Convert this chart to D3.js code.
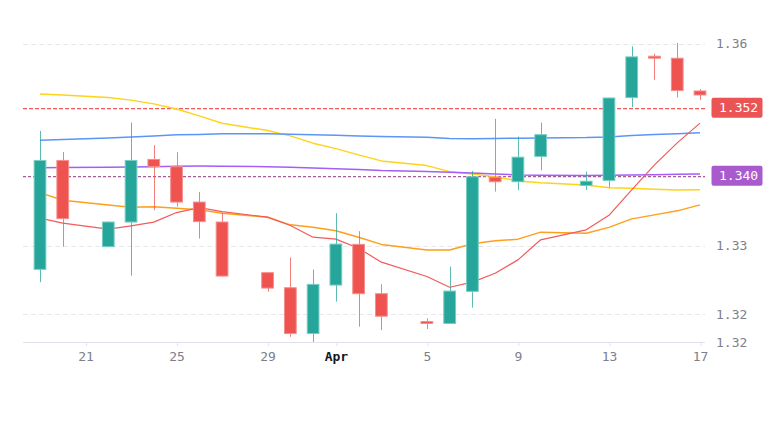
<!DOCTYPE html>
<html>
<head>
<meta charset="utf-8">
<script src="https://cdn.jsdelivr.net/npm/d3@7"></script>
<style>
  html, body { margin: 0; padding: 0; background: #ffffff; }
  svg { display: block; }
</style>
</head>
<body>
<div id="chart"></div>
<script>
// ---------------- DATA ----------------
const dates = ["2024-03-19","2024-03-20","2024-03-22","2024-03-23","2024-03-24","2024-03-25","2024-03-26","2024-03-27",
  "2024-03-29","2024-03-30","2024-03-31","2024-04-01","2024-04-02","2024-04-03","2024-04-05","2024-04-06",
  "2024-04-07","2024-04-08","2024-04-09","2024-04-10","2024-04-12","2024-04-13","2024-04-14","2024-04-15",
  "2024-04-16","2024-04-17"];
const open  = [1.32649,1.34267,1.32981,1.33343,1.34282,1.34174,1.33652,1.33358,1.32615,1.32395,1.31713,1.32419,1.33030,
  1.32308,1.31902,1.31859,1.32327,1.34019,1.33937,1.34312,1.33882,1.33956,1.35186,1.35820,1.35790,1.35300];
const high  = [1.34698,1.34386,1.33358,1.34822,1.34486,1.34382,1.33794,1.33490,1.32615,1.32829,1.32653,1.33481,1.33216,
  1.32439,1.31942,1.32697,1.34104,1.34877,1.34614,1.34822,1.34094,1.35195,1.35960,1.35850,1.36010,1.35321];
const low   = [1.32469,1.32990,1.32981,1.32565,1.33525,1.33578,1.33108,1.32551,1.32331,1.31673,1.31592,1.32185,1.31819,
  1.31771,1.31786,1.31859,1.32097,1.33799,1.33819,1.34114,1.33824,1.33857,1.35051,1.35460,1.35195,1.35160];
const close = [1.34267,1.33393,1.33358,1.34267,1.34163,1.33637,1.33349,1.32551,1.32375,1.31713,1.32444,1.33034,1.32293,
  1.31965,1.31859,1.32346,1.34025,1.33937,1.34316,1.34649,1.33960,1.35195,1.35810,1.35775,1.35291,1.35225];

const lineGold   = [1.35246,1.35231,1.35195,1.35156,1.35100,1.35025,1.34921,1.34813,1.34703,1.34624,1.34516,1.34435,1.34342,
  1.34253,1.34183,1.34094,1.34060,1.34019,1.33956,1.33931,1.33897,1.33857,1.33849,1.33834,1.33824,1.33828];
const lineBlue   = [1.34560,1.34572,1.34594,1.34609,1.34624,1.34639,1.34646,1.34654,1.34654,1.34649,1.34639,1.34634,1.34624,
  1.34614,1.34605,1.34584,1.34580,1.34584,1.34590,1.34594,1.34599,1.34609,1.34631,1.34643,1.34654,1.34669];
const linePurple = [1.34153,1.34156,1.34159,1.34163,1.34168,1.34174,1.34178,1.34175,1.34168,1.34159,1.34149,1.34138,1.34126,
  1.34111,1.34097,1.34085,1.34074,1.34059,1.34045,1.34040,1.34037,1.34040,1.34045,1.34049,1.34055,1.34059];
const lineOrange = [1.33784,1.33672,1.33603,1.33569,1.33574,1.33555,1.33530,1.33481,1.33422,1.33309,1.33275,1.33221,1.33128,
  1.33022,1.32941,1.32941,1.33030,1.33074,1.33099,1.33202,1.33187,1.33272,1.33397,1.33456,1.33515,1.33603];
const lineRed    = [1.33408,1.33334,1.33246,1.33294,1.33349,1.33490,1.33563,1.33505,1.33422,1.33299,1.33128,1.33099,1.32966,
  1.32761,1.32551,1.32395,1.32469,1.32600,1.32795,1.33089,1.33236,1.33449,1.33824,1.34193,1.34520,1.34813];

const xTickDates  = ["2024-03-21","2024-03-25","2024-03-29","2024-04-01","2024-04-05","2024-04-09","2024-04-13","2024-04-17"];
const xTickLabels = ["21","25","29","Apr","5","9","13","17"];
const yTickValues = [1.36, 1.33, 1.32];
const yTickLabels = ["1.36", "1.33", "1.32"];
const priceLineValues = [1.3503, 1.3402];
const priceLineLabels = ["1.352", "1.340"];

// ---------------- LAYOUT ----------------
const W = 770, H = 430;
const plotLeft = 23, plotRight = 705, plotTop = 20, plotBottom = 342;
const FONT = "'DejaVu Sans Mono', monospace";
const parse = d3.utcParse("%Y-%m-%d");
const days = dates.map(parse);

const x = d3.scaleUtc().domain([parse("2024-03-19"), parse("2024-04-17")]).range([40, 700]);
const y = d3.scaleLog().domain([1.32, 1.36]).range([314.3, 43.7]);

const svg = d3.select("#chart").append("svg").attr("width", W).attr("height", H);

// grid
const grid = svg.append("g");
grid.selectAll("line").data(yTickValues).join("line")
  .attr("x1", plotLeft).attr("x2", plotRight)
  .attr("y1", d => Math.round(y(d)) + 0.5).attr("y2", d => Math.round(y(d)) + 0.5)
  .attr("stroke", "#e6e8ee").attr("stroke-width", 1).attr("stroke-dasharray", "5 3");

// price lines (dashed)
const plColors = ["#ee5a5c", "#a65a98"];
const plg = svg.append("g");
priceLineValues.forEach((v, i) => {
  plg.append("line")
    .attr("x1", plotLeft).attr("x2", plotRight)
    .attr("y1", y(v)).attr("y2", y(v))
    .attr("stroke", plColors[i]).attr("stroke-width", 1.3)
    .attr("stroke-dasharray", i === 0 ? "4 2" : "3 2");
});

// moving-average lines
const lineGen = arr => d3.line().x((d, i) => x(days[i])).y(d => y(d))(arr);
const series = [
  {vals: lineGold,   color: "#fdd31c", w: 1.5},
  {vals: lineBlue,   color: "#5b96f7", w: 1.5},
  {vals: linePurple, color: "#a45ef7", w: 1.5},
  {vals: lineOrange, color: "#ff9f1a", w: 1.5},
  {vals: lineRed,    color: "#f25a5a", w: 1.2}
];
const lines = svg.append("g");
series.forEach(s => {
  lines.append("path").attr("d", lineGen(s.vals)).attr("fill", "none")
    .attr("stroke", s.color).attr("stroke-width", s.w).attr("stroke-linejoin", "round");
});

// candles
const step = x(parse("2024-03-20")) - x(parse("2024-03-19"));
const bw = step * 0.56;
const upC = "#26a69a", dnC = "#ef5350", upB = "#79cdc4", dnB = "#f58e8c";
const candles = svg.append("g");
dates.forEach((d, i) => {
  const cx = x(days[i]);
  const up = close[i] >= open[i];
  const col = up ? upC : dnC;
  const wx = Math.round(cx) + 0.5;
  candles.append("line").attr("x1", wx).attr("x2", wx)
    .attr("y1", y(high[i])).attr("y2", y(low[i]))
    .attr("stroke", col).attr("stroke-opacity", 0.75).attr("stroke-width", 1);
  const top = y(Math.max(open[i], close[i]));
  const bot = y(Math.min(open[i], close[i]));
  const hgt = Math.max(bot - top, 2);
  candles.append("rect")
    .attr("x", cx - bw / 2 + 0.5).attr("y", top + 0.5)
    .attr("width", bw - 1).attr("height", Math.max(hgt - 1, 1))
    .attr("fill", col).attr("stroke", up ? upB : dnB).attr("stroke-width", 1);
});

// x axis
const xa = svg.append("g");
xa.append("line").attr("x1", plotLeft).attr("x2", plotRight)
  .attr("y1", plotBottom + 0.5).attr("y2", plotBottom + 0.5)
  .attr("stroke", "#e0e3eb").attr("stroke-width", 1);
const xAxis = d3.axisBottom(x).tickValues(xTickDates.map(parse))
  .tickFormat((d, i) => xTickLabels[i]).tickSize(4).tickPadding(6);
const xg = svg.append("g").attr("transform", `translate(0,${plotBottom})`).call(xAxis);
xg.select(".domain").remove();
xg.selectAll(".tick line").attr("stroke", "#e0e3eb").attr("transform", "translate(0.5,0)");
xg.selectAll(".tick text")
  .attr("font-family", FONT).attr("font-size", 13)
  .attr("fill", (d, i) => xTickLabels[i] === "Apr" ? "#131722" : "#7d808a")
  .attr("font-weight", (d, i) => xTickLabels[i] === "Apr" ? "bold" : "normal");

// y axis labels (right)
const ya = svg.append("g");
ya.selectAll("text.yt").data(yTickValues).join("text").attr("class", "yt")
  .attr("x", 716).attr("y", d => y(d)).attr("dy", "0.35em")
  .attr("font-family", FONT).attr("font-size", 13).attr("fill", "#7d808a")
  .text((d, i) => yTickLabels[i]);
const bottomVal = y.invert(plotBottom);
ya.append("text").attr("x", 716).attr("y", plotBottom).attr("dy", "0.35em")
  .attr("font-family", FONT).attr("font-size", 13).attr("fill", "#7d808a")
  .text(d3.format(".2f")(bottomVal));

// price-line badges
const badgeColors = ["#ea5455", "#a95bcd"];
priceLineValues.forEach((v, i) => {
  const cy = y(v) - 0.8;
  const g = svg.append("g");
  g.append("rect").attr("x", 711.5).attr("y", cy - 10).attr("width", 51).attr("height", 20)
    .attr("rx", 2).attr("fill", badgeColors[i]);
  g.append("text").attr("x", 719).attr("y", cy).attr("dy", "0.35em")
    .attr("font-family", FONT).attr("font-size", 13).attr("fill", "#ffffff")
    .text(priceLineLabels[i]);
});
</script>
</body>
</html>
